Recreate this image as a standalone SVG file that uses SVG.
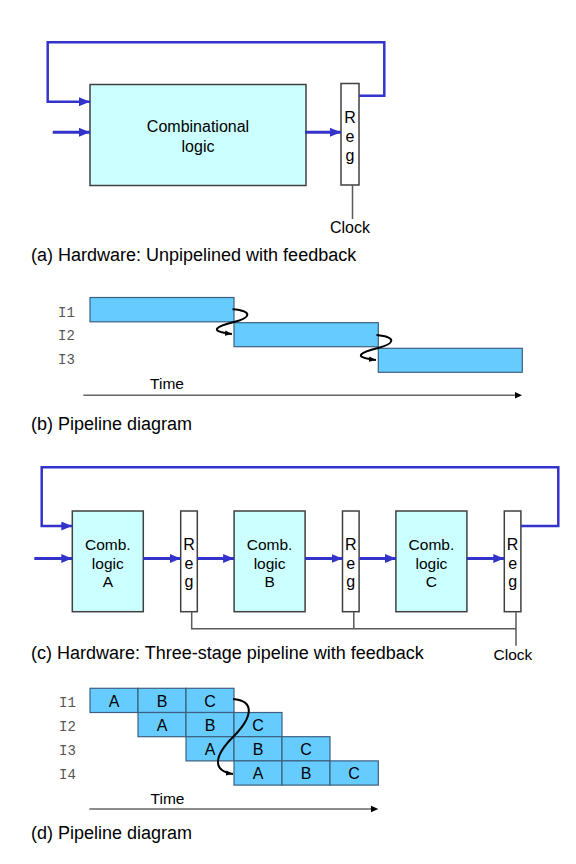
<svg xmlns="http://www.w3.org/2000/svg" width="576" height="864" viewBox="0 0 576 864">
<defs>
<marker id="ab" viewBox="0 0 11 9" refX="11" refY="4.5" markerWidth="11" markerHeight="9" markerUnits="userSpaceOnUse" orient="auto"><path d="M0,0 L11,4.5 L0,9 Z" fill="#3333CC"/></marker>
<marker id="ak" viewBox="0 0 8 6" refX="8" refY="3" markerWidth="7" markerHeight="6" markerUnits="userSpaceOnUse" orient="auto"><path d="M0,0 L8,3 L0,6 Z" fill="#000"/></marker>
<style>
.comb{fill:#CCFFFF;stroke:#404040;stroke-width:1.5}
.reg{fill:#fff;stroke:#404040;stroke-width:1.5}
.cell{fill:#66CCFF;stroke:#3D6080;stroke-width:1.2}
.blue{fill:none;stroke:#3333CC;stroke-width:3}
.fb{fill:none;stroke:#3333CC;stroke-width:2.5}
.clk{fill:none;stroke:#595959;stroke-width:1.5}
.axis{fill:none;stroke:#666;stroke-width:1.5}
.curve{fill:none;stroke:#000;stroke-width:2}
.t{font-family:"Liberation Sans",Arial,sans-serif;font-size:16px;fill:#000}
.tc{font-family:"Liberation Sans",Arial,sans-serif;font-size:15.5px;fill:#000;text-anchor:middle}
.cap{font-family:"Liberation Sans",Arial,sans-serif;font-size:18px;fill:#000}
.mono{font-family:"Liberation Mono","Courier New",monospace;font-size:14px;fill:#555}
.cl{font-family:"Liberation Sans",Arial,sans-serif;font-size:15.5px;fill:#000;text-anchor:middle}
.cx{font-family:"Liberation Sans",Arial,sans-serif;font-size:16px;fill:#000;text-anchor:middle}
</style>
</defs>

<!-- (a) -->
<g id="a-comb"><rect class="comb" x="90" y="84.5" width="216" height="101"/>
<text class="t" x="198" y="132" text-anchor="middle">Combinational</text>
<text class="t" x="198" y="152" text-anchor="middle">logic</text></g>
<g id="a-reg"><rect class="reg" x="341" y="83.5" width="18" height="101.5"/>
<text class="t" x="350" y="123" text-anchor="middle">R</text>
<text class="t" x="350" y="142" text-anchor="middle">e</text>
<text class="t" x="350" y="161" text-anchor="middle">g</text></g>
<g id="a-clock"><text class="t" x="350" y="233" text-anchor="middle">Clock</text></g>
<g id="a-conn">
<path class="fb" d="M359,95.7 H384.3 V42.3 H47.7 V101.7 H90" marker-end="url(#ab)"/>
<path class="blue" d="M52.7,132.3 H90" marker-end="url(#ab)"/>
<path class="blue" d="M305,132.3 H341" marker-end="url(#ab)"/>
<path class="clk" d="M352.5,185 V219"/>
</g>
<text class="cap" x="31" y="261">(a) Hardware: Unpipelined with feedback</text>

<!-- (b) -->
<g id="b-I1"><rect class="cell" x="90" y="297.5" width="144" height="24.3"/><text class="mono" x="58" y="317">I1</text></g>
<g id="b-I2"><rect class="cell" x="234" y="322.7" width="144.3" height="24"/><text class="mono" x="58" y="340">I2</text></g>
<g id="b-I3"><rect class="cell" x="378.3" y="348.3" width="144" height="24"/><text class="mono" x="58" y="364">I3</text></g>
<g id="b-conn">
<path class="curve" d="M232.5,309.3 C254,311 250,318 234,322 C218,326 206,331 232,334" marker-end="url(#ak)"/>
<path class="curve" d="M376.5,335 C398,337 394,344 378,348 C362,352 350,357 376,360" marker-end="url(#ak)"/>
<path class="axis" d="M83.3,395.3 H516"/>
<path d="M515,392 L522,395.3 L515,398.6 Z" fill="#000"/>
</g>
<text class="cl" x="167" y="388.5">Time</text>
<text class="cap" x="31" y="430">(b) Pipeline diagram</text>

<!-- (c) -->
<g id="c-combA"><rect class="comb" x="72.3" y="511" width="71" height="100.7"/>
<text class="tc" x="107.8" y="550">Comb.</text><text class="tc" x="107.8" y="568.5">logic</text><text class="tc" x="107.8" y="587">A</text></g>
<g id="c-reg1"><rect class="reg" x="180.7" y="511" width="16.6" height="100.7"/>
<text class="t" x="189" y="549.5" text-anchor="middle">R</text><text class="t" x="189" y="568.5" text-anchor="middle">e</text><text class="t" x="189" y="587" text-anchor="middle">g</text></g>
<g id="c-combB"><rect class="comb" x="234.1" y="511" width="71" height="100.7"/>
<text class="tc" x="269.6" y="550">Comb.</text><text class="tc" x="269.6" y="568.5">logic</text><text class="tc" x="269.6" y="587">B</text></g>
<g id="c-reg2"><rect class="reg" x="342.5" y="511" width="16.6" height="100.7"/>
<text class="t" x="350.8" y="549.5" text-anchor="middle">R</text><text class="t" x="350.8" y="568.5" text-anchor="middle">e</text><text class="t" x="350.8" y="587" text-anchor="middle">g</text></g>
<g id="c-combC"><rect class="comb" x="395.9" y="511" width="71" height="100.7"/>
<text class="tc" x="431.4" y="550">Comb.</text><text class="tc" x="431.4" y="568.5">logic</text><text class="tc" x="431.4" y="587">C</text></g>
<g id="c-reg3"><rect class="reg" x="504.3" y="511" width="16.6" height="100.7"/>
<text class="t" x="512.6" y="549.5" text-anchor="middle">R</text><text class="t" x="512.6" y="568.5" text-anchor="middle">e</text><text class="t" x="512.6" y="587" text-anchor="middle">g</text></g>
<g id="c-clock"><text class="tc" x="513" y="660">Clock</text></g>
<g id="c-conn">
<path class="fb" d="M521,526 H558.3 V467.3 H41.7 V526 H72.3" marker-end="url(#ab)"/>
<path class="blue" d="M34.3,558.5 H72.3" marker-end="url(#ab)"/>
<path class="blue" d="M143.3,558.5 H180.7" marker-end="url(#ab)"/>
<path class="blue" d="M197.3,558.5 H234.1" marker-end="url(#ab)"/>
<path class="blue" d="M305.1,558.5 H342.5" marker-end="url(#ab)"/>
<path class="blue" d="M359.1,558.5 H395.9" marker-end="url(#ab)"/>
<path class="blue" d="M466.9,558.5 H504.3" marker-end="url(#ab)"/>
<path class="clk" d="M191.7,611.7 V628.7 H516 M353.8,611.7 V628.7 M516,611.7 V645.7"/>
</g>
<text class="cap" x="31" y="658.5">(c) Hardware: Three-stage pipeline with feedback</text>

<!-- (d) -->
<g id="d-I1">
<rect class="cell" x="90" y="688.3" width="48" height="24.2"/><rect class="cell" x="138" y="688.3" width="48" height="24.2"/><rect class="cell" x="186" y="688.3" width="48" height="24.2"/>
<text class="cx" x="114" y="706.5">A</text><text class="cx" x="162" y="706.5">B</text><text class="cx" x="210" y="706.5">C</text>
<text class="mono" x="59" y="706.5">I1</text></g>
<g id="d-I2">
<rect class="cell" x="138" y="712.5" width="48" height="24.2"/><rect class="cell" x="186" y="712.5" width="48" height="24.2"/><rect class="cell" x="234" y="712.5" width="48" height="24.2"/>
<text class="cx" x="162" y="730.7">A</text><text class="cx" x="210" y="730.7">B</text><text class="cx" x="258" y="730.7">C</text>
<text class="mono" x="59" y="730.7">I2</text></g>
<g id="d-I3">
<rect class="cell" x="186" y="736.7" width="48" height="24.2"/><rect class="cell" x="234" y="736.7" width="48" height="24.2"/><rect class="cell" x="282" y="736.7" width="48" height="24.2"/>
<text class="cx" x="210" y="754.9">A</text><text class="cx" x="258" y="754.9">B</text><text class="cx" x="306" y="754.9">C</text>
<text class="mono" x="59" y="754.9">I3</text></g>
<g id="d-I4">
<rect class="cell" x="234" y="760.9" width="48" height="24.2"/><rect class="cell" x="282" y="760.9" width="48" height="24.2"/><rect class="cell" x="330" y="760.9" width="48.3" height="24.2"/>
<text class="cx" x="258" y="779.1">A</text><text class="cx" x="306" y="779.1">B</text><text class="cx" x="354" y="779.1">C</text>
<text class="mono" x="59" y="779.1">I4</text></g>
<g id="d-conn">
<path class="curve" d="M233,699 C256,701 252,718 233,737 C214,756 212,771 233,774" marker-end="url(#ak)"/>
<path class="axis" d="M89.3,809 H372"/>
<path d="M371,805.7 L378.3,809 L371,812.3 Z" fill="#000"/>
</g>
<text class="cl" x="167.5" y="803.5">Time</text>
<text class="cap" x="31" y="838.5">(d) Pipeline diagram</text>
</svg>
